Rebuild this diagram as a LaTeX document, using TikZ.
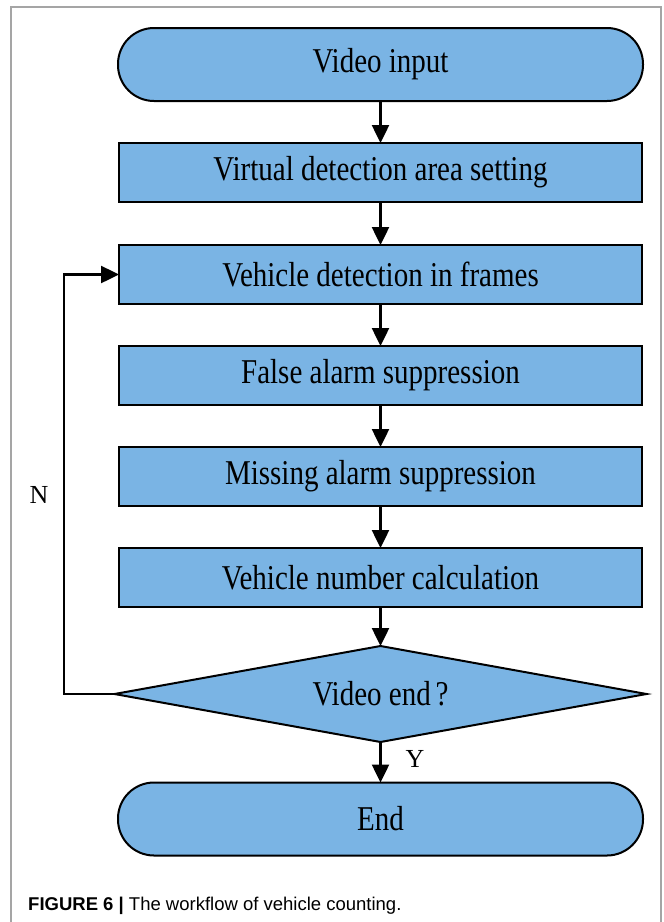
\documentclass[tikz,border=0pt]{standalone}
\usepackage{graphicx}
\usepackage{fontspec}
\setmainfont{Liberation Serif}
\newfontfamily\capfont{Liberation Sans}
\usetikzlibrary{shapes.geometric,arrows.meta}
\definecolor{boxblue}{RGB}{122,180,228}
\definecolor{framegray}{RGB}{165,165,165}
\newcommand\tallt[1]{\scalebox{1}[1.2]{#1}}
\tikzset{
  flowtext/.style={font=\fontsize{29}{34}\selectfont},
  procbox/.style={flowtext,draw=black,fill=boxblue,line width=2pt,minimum width=523pt,minimum height=59pt,inner sep=0pt,outer sep=0pt},
  pillbox/.style={procbox,rounded corners=36pt,minimum width=525pt,minimum height=73pt},
  decbox/.style={flowtext,diamond,aspect=5.54,draw=black,fill=boxblue,line width=2pt,minimum width=532pt,minimum height=96pt,inner sep=0pt,outer sep=0pt},
  arr/.style={draw=black,line width=2.5pt,-{Triangle[length=18pt,width=17pt]}},
  lab/.style={font=\fontsize{26}{30}\selectfont,inner sep=0pt}
}
\begin{document}
\begin{tikzpicture}[x=1pt,y=-1pt]
\useasboundingbox (0,0) rectangle (664,922);
\fill[white] (0,0) rectangle (664,922);
\draw[framegray,line width=1.5pt] (11,922) -- (11,7) -- (661,7) -- (661,922);

\node[pillbox] (video) at (380.5,64.5) {\tallt{Video input}};
\node[procbox] (b1) at (380.5,172.5) {\tallt{Virtual detection area setting}};
\node[procbox] (b2) at (380.5,274.5) {\tallt{Vehicle detection in frames}};
\node[procbox] (b3) at (380.5,375.5) {\tallt{False alarm suppression}};
\node[procbox] (b4) at (380.5,476.5) {\tallt{Missing alarm suppression}};
\node[procbox] (b5) at (380.5,577.5) {\tallt{Vehicle number calculation}};
\node[decbox] (dec) at (380.5,694) {\tallt{Video end\,?}};
\node[pillbox] (endn) at (380.5,819) {\tallt{End}};

\draw[arr] (video) -- (b1);
\draw[arr] (b1) -- (b2);
\draw[arr] (b2) -- (b3);
\draw[arr] (b3) -- (b4);
\draw[arr] (b4) -- (b5);
\draw[arr] (b5) -- (dec);
\draw[arr] (dec) -- (endn);
\coordinate (fb) at (64,694);
\draw[arr] (dec.west) -- (fb) |- (b2.west);

\node[lab] (nlab) at (39,495) {N};
\node[lab] (ylab) at (415,759) {Y};

\node[anchor=base west,inner sep=0pt,font=\capfont\fontsize{18.5}{22}\selectfont] (cap) at (28,910) {\textbf{FIGURE 6 |} The workflow of vehicle counting.};
\end{tikzpicture}
\end{document}
